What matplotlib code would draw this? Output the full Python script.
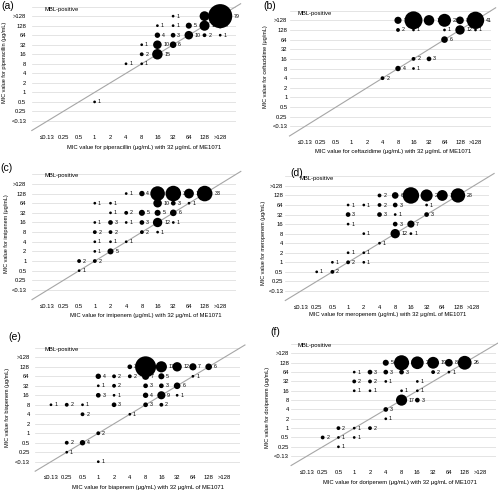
import numpy as np
import matplotlib.pyplot as plt

plt.rcParams['font.family'] = ['Liberation Sans', 'DejaVu Sans']

W, H = 498, 490

x_cats = ['≤0.13', '0.25', '0.5', '1', '2', '4', '8', '16', '32', '64', '128', '>128']
y_cats = ['<0.13', '0.25', '0.5', '1', '2', '4', '8', '16', '32', '64', '128', '>128']

# (a) piperacillin
a_x = ['32', '128', '>128', '16', '32', '64', '128', '>128', '16', '32', '64', '128', '>128',
       '8', '16', '32', '8', '16', '4', '8', '1']
a_y = ['>128', '>128', '>128', '128', '128', '128', '128', '128', '64', '64', '64', '64', '64',
       '32', '32', '32', '16', '16', '8', '8', '0.5']
a_n = [1, 13, 79, 1, 1, 5, 14, 4, 4, 3, 10, 2, 1, 1, 10, 6, 2, 15, 1, 1, 1]

# (b) ceftazidime
b_x = ['8', '16', '32', '64', '128', '>128', '8', '16', '64', '128', '>128', '64',
       '16', '32', '8', '16', '4']
b_y = ['>128', '>128', '>128', '>128', '>128', '>128', '128', '128', '128', '128', '128', '64',
       '16', '16', '8', '8', '4']
b_n = [7, 44, 15, 23, 8, 41, 2, 1, 1, 12, 1, 6, 2, 3, 4, 1, 2]

# (c) imipenem
c_x = ['4', '8', '16', '32', '64', '128',
       '1', '2', '16', '32', '64',
       '2', '4', '8', '16', '32',
       '1', '2', '4', '8', '16', '32',
       '1', '2', '8', '16',
       '1', '2', '4',
       '1', '2',
       '0.5', '1',
       '0.5']
c_y = ['128', '128', '128', '128', '128', '128',
       '64', '64', '64', '64', '64',
       '32', '32', '32', '32', '32',
       '16', '16', '16', '16', '16', '16',
       '8', '8', '8', '8',
       '4', '4', '4',
       '2', '2',
       '1', '1',
       '0.5']
c_n = [1, 4, 29, 33, 13, 33,
       1, 1, 10, 3, 1,
       1, 2, 5, 5, 6,
       1, 3, 1, 3, 12, 1,
       2, 2, 2, 1,
       1, 1, 1,
       1, 5,
       2, 2,
       1]

# (d) meropenem
d_x = ['4', '8', '16', '32', '64', '128',
       '1', '2', '4', '8', '32',
       '1', '4', '8', '32',
       '1', '8', '16',
       '2', '8', '16',
       '4',
       '1', '2',
       '0.5', '1', '2',
       '0.25', '0.5']
d_y = ['128', '128', '128', '128', '128', '128',
       '64', '64', '64', '64', '64',
       '32', '32', '32', '32',
       '16', '16', '16',
       '8', '8', '8',
       '4',
       '2', '2',
       '1', '1', '1',
       '0.5', '0.5']
d_n = [2, 6, 37, 20, 16, 28,
       1, 1, 2, 3, 1,
       3, 3, 1, 3,
       1, 3, 7,
       1, 12, 1,
       1,
       1, 1,
       1, 2, 1,
       1, 2]

# (e) biapenem
e_x = ['4', '8', '16', '32', '64', '128',
       '1', '2', '4', '8', '16', '64',
       '1', '2', '8', '16', '32',
       '1', '2', '8', '16', '32',
       '≤0.13', '0.25', '0.5', '2', '8', '16',
       '0.5', '4',
       '1',
       '0.25', '0.5',
       '0.25',
       '1']
e_y = ['128', '128', '128', '128', '128', '128',
       '64', '64', '64', '64', '64', '64',
       '32', '32', '32', '32', '32',
       '16', '16', '16', '16', '16',
       '8', '8', '8', '8', '8', '8',
       '4', '4',
       '1',
       '0.5', '0.5',
       '0.25',
       '<0.13']
e_n = [3, 60, 17, 12, 7, 6,
       4, 2, 2, 7, 5, 1,
       1, 2, 3, 3, 6,
       3, 1, 4, 9, 1,
       1, 2, 1, 3, 3, 2,
       2, 1,
       2,
       2, 4,
       1,
       1]

# (f) doripenem
f_x = ['4', '8', '16', '32', '64', '128',
       '1', '2', '4', '8', '32', '64',
       '1', '2', '4', '16',
       '1', '2', '8', '16',
       '8', '16',
       '4',
       '4',
       '0.5', '1', '2',
       '0.25', '0.5', '1',
       '0.5']
f_y = ['128', '128', '128', '128', '128', '128',
       '64', '64', '64', '64', '64', '64',
       '32', '32', '32', '32',
       '16', '16', '16', '16',
       '8', '8',
       '4',
       '2',
       '1', '1', '1',
       '0.5', '0.5', '0.5',
       '0.25']
f_n = [5, 31, 22, 19, 8, 26,
       1, 3, 3, 3, 2, 1,
       2, 2, 1, 1,
       1, 1, 1, 1,
       17, 3,
       3,
       1,
       2, 1, 2,
       2, 1, 1,
       1]

panels = [
    ('(a)', 'piperacillin', a_x, a_y, a_n),
    ('(b)', 'ceftazidime', b_x, b_y, b_n),
    ('(c)', 'imipenem', c_x, c_y, c_n),
    ('(d)', 'meropenem', d_x, d_y, d_n),
    ('(e)', 'biapenem', e_x, e_y, e_n),
    ('(f)', 'doripenem', f_x, f_y, f_n),
]

# pixel layout: origin x, step x, origin y (from top), step y
geom = [
    (31.8, 15.7, 130.5, 9.53),
    (289.5, 15.5, 136.0, 9.64),
    (32.0, 15.7, 299.6, 9.64),
    (285.3, 15.7, 300.5, 9.55),
    (35.2, 15.77, 471.2, 9.49),
    (291.1, 15.78, 465.5, 9.34),
]
# (panel label, MBL text, y label x, y label y, x label x, x label y)
text_pos = [
    ((8, 6), (62, 9), 5, 62, 144, 147),
    ((270, 6), (315, 13), 265, 67, 393, 151),
    ((6, 168), (62, 175), 7, 234, 146, 315),
    ((297, 173), (317, 178), 263, 243, 388, 314),
    ((15, 337), (62, 349), 8, 407, 148, 487),
    ((275, 332), (315, 345), 267, 407, 400, 482),
]


def fpos(x, y):
    return x / W, 1 - y / H


fig = plt.figure(figsize=(W / 100, H / 100), dpi=100)

for i, (tag, drug, xs, ys, ns) in enumerate(panels):
    x0, dx, y0, dy = geom[i]
    ax = fig.add_axes([x0 / W, 1 - y0 / H, 13 * dx / W, 13 * dy / H])
    ax.set_xlim(0, 13)
    ax.set_ylim(0, 13)
    for sp in ax.spines.values():
        sp.set_visible(False)
    for k in range(1, 14):
        ax.axhline(k, color='#d9d9d9', lw=0.5, zorder=0)
    ax.plot([0, 13.3], [0, 13.3], color='#a6a6a6', lw=0.8, zorder=1, clip_on=False)

    xi = np.array([x_cats.index(v) + 1 for v in xs])
    yi = np.array([y_cats.index(v) + 1 for v in ys])
    ns = np.array(ns)
    sizes = 3.8 * ns
    ax.scatter(xi, yi, s=sizes, color='black', edgecolors='none', zorder=3, clip_on=False)
    for xx, yy, n, s in zip(xi, yi, ns, sizes):
        ax.annotate(str(n), (xx, yy), xytext=(np.sqrt(s) / 2 + 1.3, 0),
                    textcoords='offset points', ha='left', va='center',
                    fontsize=3.8, zorder=2, annotation_clip=False)

    ax.set_xticks(range(1, 13))
    ax.set_xticklabels(x_cats, fontsize=4.2)
    ax.set_yticks(range(1, 13))
    ax.set_yticklabels(y_cats, fontsize=4.2)
    ax.tick_params(length=0, pad=3)
    ax.tick_params(axis='y', pad=4 if i % 2 == 0 else 1.5)
    ax.grid(False)

    tp = text_pos[i]
    fig.text(*fpos(*tp[0]), tag, fontsize=7.5, ha='center', va='center')
    fig.text(*fpos(*tp[1]), 'MBL-positive', fontsize=4.2, ha='center', va='center')
    fig.text(*fpos(tp[2], tp[3]), f'MIC value for {drug} (μg/mL)', fontsize=4.0,
             rotation=90, ha='center', va='center')
    fig.text(*fpos(tp[4], tp[5]), f'MIC value for {drug} (μg/mL) with 32 μg/mL of ME1071',
             fontsize=4.2, ha='center', va='center')

fig.savefig('out.png', dpi=100)
